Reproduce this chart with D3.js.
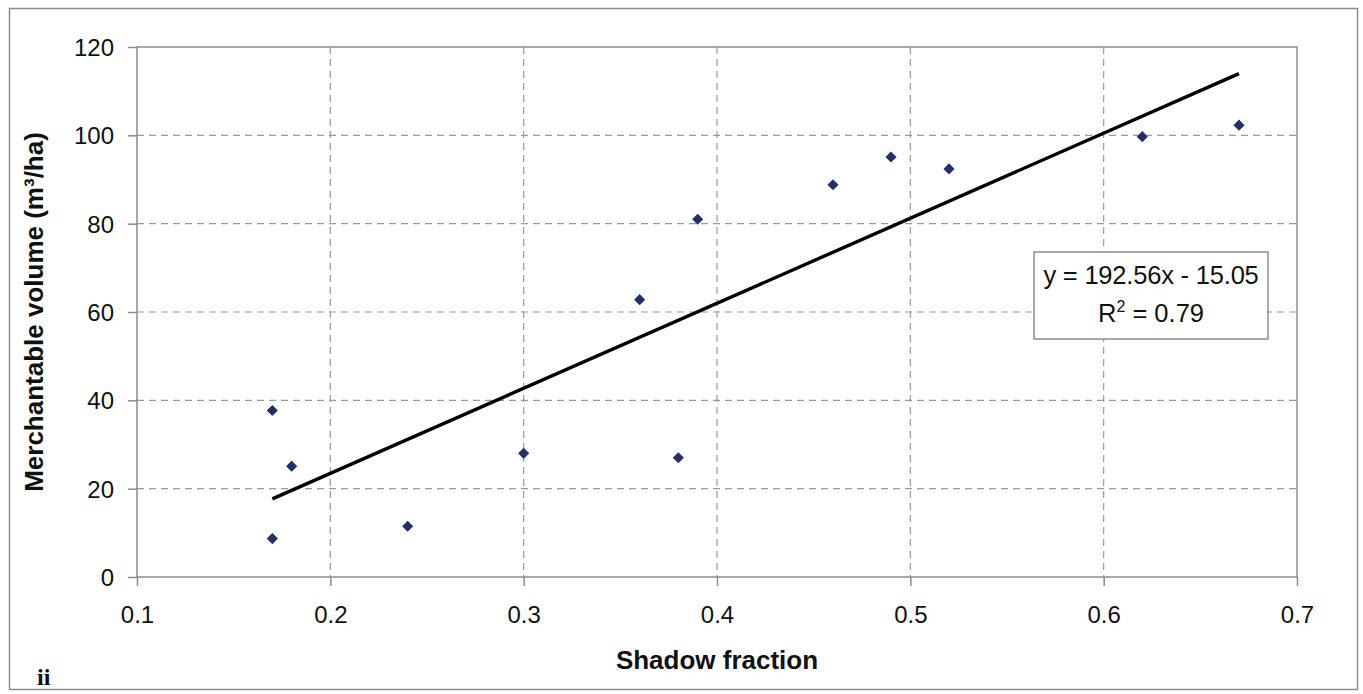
<!DOCTYPE html>
<html>
<head>
<meta charset="utf-8">
<script src="https://cdn.jsdelivr.net/npm/d3@7"></script>
<style>
  body { margin: 0; background: #fff; }
  svg { display: block; font-family: "Liberation Sans", Arial, sans-serif; }
</style>
</head>
<body>
<svg id="chart" width="1363" height="694"></svg>
<script>
// shadow fraction vs merchantable volume
const shadowFraction = [0.17, 0.17, 0.18, 0.24, 0.30, 0.36, 0.38, 0.39, 0.46, 0.49, 0.52, 0.62, 0.67];
const volume = [8.7, 37.7, 25.1, 11.5, 28.0, 62.8, 27.0, 81.0, 88.8, 95.1, 92.4, 99.7, 102.3];
const xTicks = [0.1, 0.2, 0.3, 0.4, 0.5, 0.6, 0.7];
const yTicks = [0, 20, 40, 60, 80, 100, 120];
const slope = 192.56, intercept = -15.05, r2 = 0.79;
const fitRange = [0.17, 0.67];

const svg = d3.select('#chart');
const margin = { top: 47, right: 66, bottom: 117, left: 137 };
const width = 1363 - margin.left - margin.right;
const height = 694 - margin.top - margin.bottom;

// outer frame
svg.append('rect')
  .attr('x', 9.5).attr('y', 8.5)
  .attr('width', 1348).attr('height', 681)
  .attr('fill', 'none')
  .attr('stroke', '#8c8c8c')
  .attr('stroke-width', 1.5);

const g = svg.append('g')
  .attr('transform', `translate(${margin.left},${margin.top})`);

const x = d3.scaleLinear().domain([0.1, 0.7]).range([0, width]);
const y = d3.scaleLinear().domain([0, 120]).range([height, 0]);

// gridlines
g.append('g')
  .selectAll('line')
  .data(yTicks.slice(1, -1))
  .enter().append('line')
  .attr('x1', 0).attr('x2', width)
  .attr('y1', d => y(d)).attr('y2', d => y(d))
  .attr('stroke', '#9a9a9a')
  .attr('stroke-width', 1.2)
  .attr('stroke-dasharray', '7,5');

g.append('g')
  .selectAll('line')
  .data(xTicks.slice(1, -1))
  .enter().append('line')
  .attr('x1', d => x(d)).attr('x2', d => x(d))
  .attr('y1', 0).attr('y2', height)
  .attr('stroke', '#9a9a9a')
  .attr('stroke-width', 1.2)
  .attr('stroke-dasharray', '7,5');

// plot border
g.append('rect')
  .attr('width', width).attr('height', height)
  .attr('fill', 'none')
  .attr('stroke', '#8c8c8c')
  .attr('stroke-width', 1.5);

// axes
const xAxis = g.append('g')
  .attr('transform', `translate(0,${height})`)
  .call(d3.axisBottom(x).tickValues(xTicks).tickSize(9).tickPadding(20)
    .tickFormat(d3.format('.1f')));

const yAxis = g.append('g')
  .call(d3.axisLeft(y).tickValues(yTicks).tickSize(9).tickPadding(14)
    .tickFormat(d3.format('d')));

[xAxis, yAxis].forEach(a => {
  a.select('.domain').remove();
  a.selectAll('.tick line').attr('stroke', '#8c8c8c').attr('stroke-width', 1.5);
  a.selectAll('.tick text')
    .attr('fill', '#111')
    .style('font-size', '24px')
    .style('font-family', '"Liberation Sans", Arial, sans-serif');
});
yAxis.selectAll('.tick text').attr('dy', '0.36em');

// trend line
const fit = fitRange.map(v => [v, slope * v + intercept]);
g.append('path')
  .datum(fit)
  .attr('fill', 'none')
  .attr('stroke', '#000')
  .attr('stroke-width', 3.4)
  .attr('d', d3.line().x(d => x(d[0])).y(d => y(d[1])));

// points (square turned 45deg, like Excel's diamond marker)
const diamond = d3.symbol().type(d3.symbolSquare).size(62);
g.selectAll('.dot')
  .data(shadowFraction.map((v, i) => [v, volume[i]]))
  .enter().append('path')
  .attr('class', 'dot')
  .attr('d', diamond)
  .attr('transform', d => `translate(${x(d[0])},${y(d[1])}) rotate(45)`)
  .attr('fill', '#24306a');

// equation box
const box = g.append('g').attr('transform', `translate(${1034 - margin.left},${252 - margin.top})`);
box.append('rect')
  .attr('width', 234).attr('height', 87)
  .attr('fill', '#fff')
  .attr('stroke', '#8c8c8c')
  .attr('stroke-width', 1.5);
box.append('text')
  .attr('x', 117).attr('y', 32)
  .attr('text-anchor', 'middle')
  .style('font-size', '25.5px')
  .style('letter-spacing', '-0.2px')
  .attr('fill', '#111')
  .text(`y = ${slope}x - ${Math.abs(intercept).toFixed(2)}`);
const r2Text = box.append('text')
  .attr('x', 117).attr('y', 70)
  .attr('text-anchor', 'middle')
  .style('font-size', '25.5px')
  .attr('fill', '#111');
r2Text.append('tspan').text('R');
r2Text.append('tspan').attr('dy', -10).style('font-size', '16px').text('2');
r2Text.append('tspan').attr('dy', 10).text(` = ${r2}`);

// axis titles
svg.append('text')
  .attr('x', margin.left + width / 2).attr('y', 669)
  .attr('text-anchor', 'middle')
  .style('font-size', '26px').style('font-weight', 'bold')
  .attr('fill', '#111')
  .text('Shadow fraction');

svg.append('text')
  .attr('transform', `translate(43,${margin.top + height / 2}) rotate(-90)`)
  .attr('text-anchor', 'middle')
  .style('font-size', '26px').style('font-weight', 'bold')
  .attr('fill', '#111')
  .text('Merchantable volume (m³/ha)');

svg.append('text')
  .attr('x', 37).attr('y', 685)
  .style('font-family', '"Liberation Serif", "DejaVu Serif", serif')
  .style('font-size', '24px').style('font-weight', 'bold')
  .attr('fill', '#111')
  .text('ii');
</script>
</body>
</html>
